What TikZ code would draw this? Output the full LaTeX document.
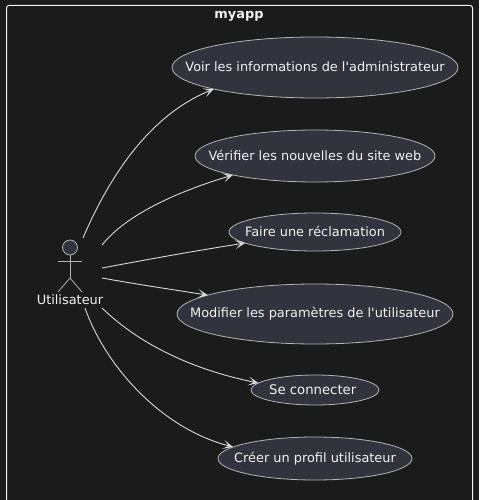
\documentclass[tikz,border=0pt]{standalone}
\usepackage{fontspec}
\setmainfont{DejaVu Sans}[Ligatures=TeXOff]
\usetikzlibrary{arrows.meta,shapes.geometric}
\definecolor{bgc}{HTML}{1B1B1B}
\definecolor{ufill}{HTML}{32333C}
\definecolor{uline}{HTML}{B4B4B4}
\definecolor{txt}{HTML}{F2F2F2}
\newcommand{\zw}[2][0pt]{\raisebox{#1}{\makebox[0pt]{#2}}}
\tikzset{
  usecase/.style={ellipse,draw=uline,fill=ufill,line width=0.8pt,inner sep=0pt,outer sep=0pt,text=txt,font=\fontsize{12.9}{15}\selectfont},
  link/.style={draw=txt!90!black,line width=0.9pt,-{Stealth[length=10pt,width=9pt,inset=5.5pt]}},
  figure/.style={draw=uline,line width=0.8pt},
  frame/.style={draw=txt,line width=1pt,rounded corners=2.5pt}
}
\begin{document}
\begin{tikzpicture}[x=1pt,y=-1pt]
\useasboundingbox (0,0) rectangle (479,500);
\fill[bgc] (0,0) rectangle (479,500);
\draw[frame] (6.5,500) -- (6.5,5.5) -- (472.5,5.5) -- (472.5,500);
\node[text=txt,font=\bfseries\fontsize{12.9}{15}\selectfont] (title) at (239,16) {myapp};
\node[usecase,minimum width=286pt,minimum height=61pt] (u1) at (315,67.5) {\zw[2pt]{Voir les informations de l'administrateur}};
\node[usecase,minimum width=240pt,minimum height=52pt] (u2) at (315,156) {\zw[2pt]{Vérifier les nouvelles du site web}};
\node[usecase,minimum width=172pt,minimum height=38pt] (u3) at (315,232) {\zw[1.5pt]{Faire une réclamation}};
\node[usecase,minimum width=276pt,minimum height=60pt] (u4) at (315,314) {\zw[1pt]{Modifier les paramètres de l'utilisateur}};
\node[usecase,minimum width=128pt,minimum height=30pt] (u5) at (315,390) {\zw[0.5pt]{\fontsize{13.25}{15}\selectfont\hspace*{-4.6pt}Se connecter}};
\node[usecase,minimum width=194pt,minimum height=43pt] (u6) at (315,458.5) {\zw[0.5pt]{Créer un profil utilisateur}};
% actor
\node[circle,draw=uline,fill=ufill,line width=0.8pt,minimum size=15pt,inner sep=0pt] (head) at (70,247.5) {};
\coordinate (hip) at (70,278);
\coordinate (armL) at (58,261.5);
\coordinate (armR) at (82,261.5);
\coordinate (legL) at (58,292);
\coordinate (legR) at (82,292);
\draw[figure] (head.south) -- (hip);
\draw[figure] (armL) -- (armR);
\draw[figure] (legL) -- (hip) -- (legR);
\node[text=txt,font=\fontsize{12.9}{15}\selectfont] (actor) at (70,300) {Utilisateur};
\coordinate (s1) at (83,238);
\coordinate (s2) at (102,245);
\coordinate (s3) at (102,268);
\coordinate (s4) at (102,278);
\coordinate (s5) at (102,308);
\coordinate (s6) at (85,308);
\draw[link] (s1) .. controls (110,175) and (150,115) .. (u1.192.6);
\draw[link] (s2) .. controls (130,210) and (190,188) .. (u2.193.2);
\draw[link] (s3) .. controls (150,259) and (200,250) .. (u3.189.7);
\draw[link] (s4) .. controls (135,284) and (175,290) .. (u4.170.5);
\draw[link] (s5) .. controls (135,340) and (185,368) .. (u5.173.4);
\draw[link] (s6) .. controls (105,365) and (160,428) .. (u6.172);
\end{tikzpicture}
\end{document}
